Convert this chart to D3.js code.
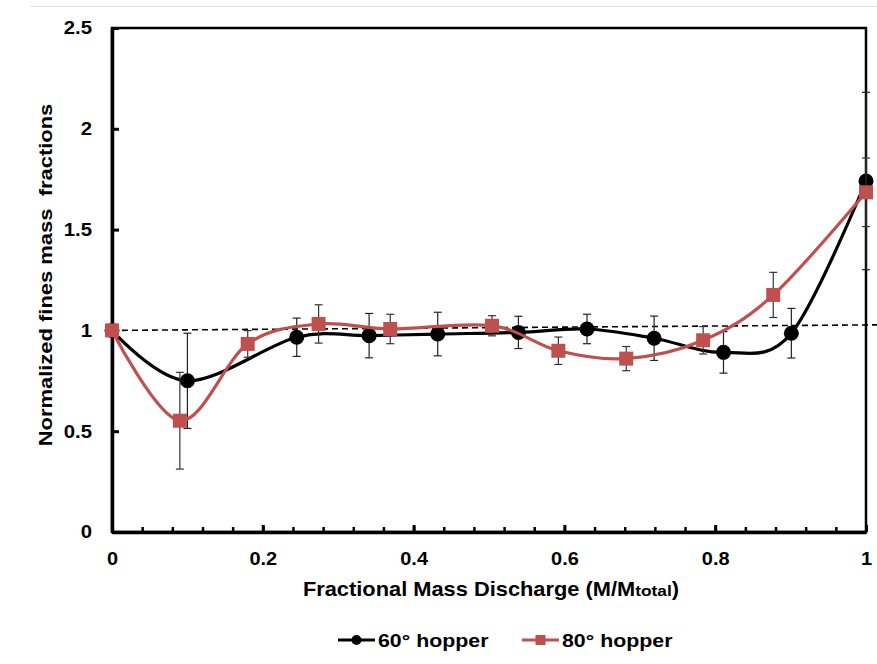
<!DOCTYPE html>
<html>
<head>
<meta charset="utf-8">
<script src="https://cdn.jsdelivr.net/npm/d3@7"></script>
<style>
  html, body { margin: 0; padding: 0; background: #fff; }
  svg { display: block; }
  text { font-family: "Liberation Sans", Arial, sans-serif; fill: #000; }
</style>
</head>
<body>
<svg id="chart" width="877" height="664"></svg>
<script>
// ---- data ----
const xTickValues = [0, 0.2, 0.4, 0.6, 0.8, 1];
const xMinorTickValues = d3.range(0, 26).map(i => i * 0.04);
const yTickValues = [0, 0.5, 1, 1.5, 2, 2.5];
const xTickLabels = ["0", "0.2", "0.4", "0.6", "0.8", "1"];
const yTickLabels = ["0", "0.5", "1", "1.5", "2", "2.5"];

const hopper60X   = [0, 0.100, 0.245, 0.341, 0.432, 0.539, 0.630, 0.719, 0.811, 0.901, 1.000];
const hopper60Y   = [1.000, 0.750, 0.966, 0.974, 0.982, 0.990, 1.007, 0.961, 0.891, 0.986, 1.741];
const hopper60Err = [0, 0.236, 0.095, 0.110, 0.108, 0.080, 0.073, 0.110, 0.103, 0.123, 0.440];

const hopper80X   = [0, 0.090, 0.180, 0.274, 0.369, 0.504, 0.592, 0.682, 0.784, 0.877, 1.000];
const hopper80Y   = [1.000, 0.552, 0.933, 1.032, 1.007, 1.023, 0.899, 0.860, 0.951, 1.176, 1.685];
const hopper80Err = [0, 0.240, 0.066, 0.095, 0.073, 0.050, 0.068, 0.060, 0.068, 0.112, 0.170];

const refLineX = [0, 1.0146];
const refLineY = [1.000, 1.0275];

const seriesNames = ["60° hopper", "80° hopper"];
const xTitle = "Fractional Mass Discharge (M/M";
const xTitleSub = "total";
const yTitle = "Normalized fines mass\u00a0 fractions";

// ---- layout ----
const svg = d3.select("#chart");
const x = d3.scaleLinear().domain([0, 1]).range([112, 866]);
const y = d3.scaleLinear().domain([0, 2.5]).range([532, 28]);
const RED = "#c0504d";

// light top border of chart area
svg.append("line").attr("x1", 30).attr("x2", 877).attr("y1", 6.5).attr("y2", 6.5)
  .attr("stroke", "#e2e2e2").attr("stroke-width", 1);

// plot frame (top/right)
svg.append("rect")
  .attr("x", x(0)).attr("y", y(2.5))
  .attr("width", x(1) - x(0)).attr("height", y(0) - y(2.5))
  .attr("fill", "none").attr("stroke", "#000").attr("stroke-width", 2.5);

// x axis minor ticks
const xMinor = svg.append("g").attr("transform", `translate(0,${y(0)})`)
  .call(d3.axisBottom(x).tickValues(xMinorTickValues).tickSizeInner(-5).tickSizeOuter(0).tickFormat(""));
xMinor.select(".domain").remove();
xMinor.selectAll(".tick line").attr("stroke-width", 2.5);

// x axis major
const xAxis = svg.append("g").attr("transform", `translate(0,${y(0)})`)
  .call(d3.axisBottom(x).tickValues(xTickValues).tickSizeInner(-7).tickSizeOuter(0)
    .tickPadding(20).tickFormat((d, i) => xTickLabels[i]));
xAxis.select(".domain").attr("stroke-width", 3.5);
xAxis.selectAll(".tick line").attr("stroke-width", 3);
xAxis.selectAll(".tick text")
  .attr("font-size", 18.5).attr("font-weight", "bold")
  .attr("font-family", "'Liberation Sans', Arial, sans-serif")
  .attr("transform", "scale(1.08,1)");

// y axis
const yAxis = svg.append("g").attr("transform", `translate(${x(0)},0)`)
  .call(d3.axisLeft(y).tickValues(yTickValues).tickSizeInner(-7).tickSizeOuter(0)
    .tickPadding(20).tickFormat((d, i) => yTickLabels[i]));
yAxis.select(".domain").attr("stroke-width", 3.5);
yAxis.selectAll(".tick line").attr("stroke-width", 3);
yAxis.selectAll(".tick text")
  .attr("font-size", 18.5).attr("font-weight", "bold")
  .attr("font-family", "'Liberation Sans', Arial, sans-serif")
  .attr("x", -20 / 1.1)
  .attr("transform", "scale(1.1,1)");

// dashed reference line
svg.append("path")
  .datum(refLineX.map((v, i) => [v, refLineY[i]]))
  .attr("d", d3.line().x(d => x(d[0])).y(d => y(d[1])))
  .attr("fill", "none").attr("stroke", "#000").attr("stroke-width", 1.6)
  .attr("stroke-dasharray", "6,4");

function drawSeries(xs, ys, errs, color, barColor, marker) {
  const pts = xs.map((v, i) => ({ x: v, y: ys[i], e: errs[i] }));
  const g = svg.append("g");
  g.append("path").datum(pts)
    .attr("d", d3.line().x(d => x(d.x)).y(d => y(d.y)).curve(d3.curveCardinal.tension(0)))
    .attr("fill", "none").attr("stroke", color).attr("stroke-width", 3.2);
  const eb = g.append("g").attr("stroke", barColor).attr("stroke-width", 1.2);
  pts.filter(d => d.e > 0).forEach(d => {
    const cx = x(d.x), t = y(d.y + d.e), b = y(d.y - d.e);
    eb.append("line").attr("x1", cx).attr("x2", cx).attr("y1", t).attr("y2", b);
    eb.append("line").attr("x1", cx - 4).attr("x2", cx + 4).attr("y1", t).attr("y2", t);
    eb.append("line").attr("x1", cx - 4).attr("x2", cx + 4).attr("y1", b).attr("y2", b);
  });
  if (marker === "circle") {
    g.selectAll("circle").data(pts).join("circle")
      .attr("cx", d => x(d.x)).attr("cy", d => y(d.y)).attr("r", 7.5).attr("fill", color);
  } else {
    const s = 14;
    g.selectAll("rect.m").data(pts).join("rect").attr("class", "m")
      .attr("x", d => x(d.x) - s / 2).attr("y", d => y(d.y) - s / 2)
      .attr("width", s).attr("height", s).attr("fill", color);
  }
}

drawSeries(hopper60X, hopper60Y, hopper60Err, "#000", "#222", "circle");
drawSeries(hopper80X, hopper80Y, hopper80Err, RED, "#333", "square");

// x axis title
const xt = svg.append("text")
  .attr("transform", `translate(${(x(0) + x(1)) / 2 + 2},596) scale(1.12,1)`)
  .attr("text-anchor", "middle").attr("font-size", 19.5).attr("font-weight", "bold");
xt.append("tspan").text(xTitle);
xt.append("tspan").attr("font-size", 15.5).text(xTitleSub);
xt.append("tspan").text(")");

// y axis title
svg.append("text")
  .attr("transform", `translate(52,275) rotate(-90) scale(1.22,1)`)
  .attr("text-anchor", "middle").attr("font-size", 18).attr("font-weight", "bold")
  .text(yTitle);

// legend
const legend = svg.append("g");
const legendItems = [
  { name: seriesNames[0], color: "#000", marker: "circle", x0: 338 },
  { name: seriesNames[1], color: RED, marker: "square", x0: 522 }
];
legendItems.forEach(it => {
  const lg = legend.append("g").attr("transform", `translate(${it.x0},640)`);
  lg.append("line").attr("x1", 0).attr("x2", 37).attr("y1", 0).attr("y2", 0)
    .attr("stroke", it.color).attr("stroke-width", 3.2);
  if (it.marker === "circle") {
    lg.append("circle").attr("cx", 18.5).attr("cy", 0).attr("r", 5).attr("fill", it.color);
  } else {
    lg.append("rect").attr("x", 13.5).attr("y", -5).attr("width", 10).attr("height", 10).attr("fill", it.color);
  }
  lg.append("text").attr("transform", "translate(40,7) scale(1.22,1)")
    .attr("font-size", 17.5).attr("font-weight", "bold").text(it.name);
});
</script>
</body>
</html>
